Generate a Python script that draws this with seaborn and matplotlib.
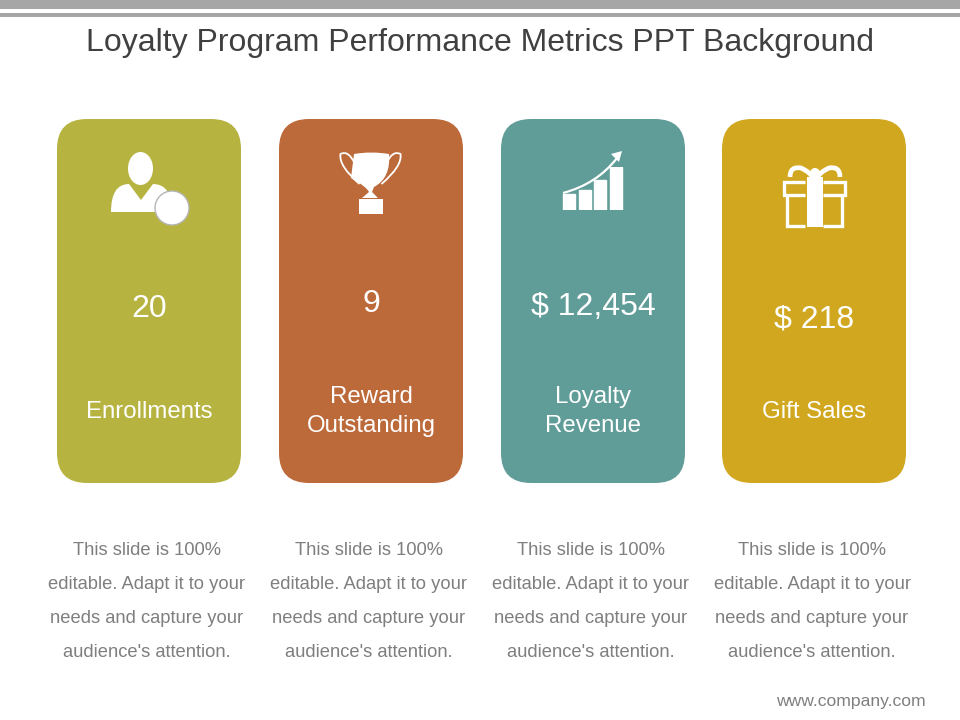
import numpy as np
import pandas as pd
import matplotlib
matplotlib.use("Agg")
import matplotlib.pyplot as plt
from matplotlib.patches import FancyBboxPatch, Ellipse, Circle, Polygon, Rectangle, PathPatch
from matplotlib.path import Path
import seaborn as sns

title = "Loyalty Program Performance Metrics PPT Background"
metric_values = ["20", "9", "$ 12,454", "$ 218"]
metric_labels = ["Enrollments", "Reward\nOutstanding", "Loyalty\nRevenue", "Gift Sales"]
card_colors = ["#B7B341", "#BD6A3B", "#619D98", "#D0A71E"]
value_y = [309, 304, 307, 319]
body_lines = ["This slide is 100%", "editable. Adapt it to your",
              "needs and capture your", "audience's attention."]
growth_steps = ["a", "b", "c", "d"]
growth_heights = [16, 20, 30, 43]
footer = "www.company.com"

sns.set_theme(style="white")
plt.rcParams["font.family"] = ["Liberation Sans", "DejaVu Sans"]

W, H = 960, 720
fig = plt.figure(figsize=(9.6, 7.2), dpi=100, facecolor="white")
ax = fig.add_axes([0, 0, 1, 1])
ax.set_xlim(0, W)
ax.set_ylim(H, 0)
ax.axis("off")

# header rules
ax.add_patch(Rectangle((0, 0), W, 9, fc="#A6A6A6", ec="none"))
ax.add_patch(Rectangle((0, 13), W, 4, fc="#A6A6A6", ec="none"))
ax.text(480, 43.5, title, ha="center", va="center", fontsize=23.05, color="#404040")

card_left = [57, 279, 501, 722]
card_w, top, bottom, rad = 184, 119, 483, 30
for left, c, v, lab, vy in zip(card_left, card_colors, metric_values, metric_labels, value_y):
    ax.add_patch(FancyBboxPatch((left + rad, top + rad), card_w - 2 * rad, bottom - top - 2 * rad,
                                boxstyle=f"round,pad={rad},rounding_size={rad}", fc=c, ec="none"))
    cx = left + card_w / 2
    ax.text(cx, vy, v, ha="center", va="center", fontsize=23, color="white")
    ax.text(cx, 411.5, lab, ha="center", va="center", fontsize=17.3, color="white", linespacing=1.36)
    for i, line in enumerate(body_lines):
        ax.text(cx - 2, 550.5 + 34 * i, line, ha="center", va="center", fontsize=13.25, color="#7F7F7F")

ax.text(926, 701.5, footer, ha="right", va="center", fontsize=12.6, color="#7F7F7F")

W_ = "white"
# person icon
ax.add_patch(Ellipse((140.5, 168.5), 25, 33, fc=W_, ec="none"))
body = Path([(111, 212), (111, 184), (129, 184), (141, 200), (153, 184), (172, 184),
             (172, 212), (111, 212)],
            [Path.MOVETO, Path.CURVE3, Path.CURVE3, Path.LINETO, Path.LINETO, Path.CURVE3,
             Path.CURVE3, Path.CLOSEPOLY])
ax.add_patch(PathPatch(body, fc=W_, ec="none"))
ax.add_patch(Circle((172, 208), 17, fc=W_, ec="#B5B5B5", lw=1))

# trophy icon
cup = Path([(354, 154), (371, 151), (389, 154), (391, 178), (374, 187), (372, 192), (378, 198),
            (362, 198), (369, 192), (367, 187), (351, 178), (354, 154), (354, 154)],
           [Path.MOVETO, Path.CURVE3, Path.CURVE3, Path.CURVE3, Path.CURVE3, Path.LINETO,
            Path.LINETO, Path.LINETO, Path.LINETO, Path.CURVE3, Path.CURVE3, Path.CURVE3, Path.CLOSEPOLY])
ax.add_patch(PathPatch(cup, fc=W_, ec="none"))
ax.add_patch(Rectangle((359, 199), 24, 15, fc=W_, ec="none"))
for sign in (-1, 1):
    hx = lambda d: 370.5 + sign * d
    handle = Path([(hx(16), 163), (hx(22), 150), (hx(30), 154), (hx(32), 166), (hx(11), 184)],
                  [Path.MOVETO, Path.CURVE3, Path.CURVE3, Path.CURVE3, Path.CURVE3])
    ax.add_patch(PathPatch(handle, fc="none", ec=W_, lw=1.3))

# growth icon: bars through seaborn on an inset axes
inset = fig.add_axes([561 / W, 1 - 210 / H, 62.8 / W, 43 / H])
inset.patch.set_alpha(0)
sns.barplot(data=pd.DataFrame({"s": growth_steps, "h": growth_heights}), x="s", y="h",
            color=W_, saturation=1, width=0.76, ax=inset)
inset.set_ylim(0, 43)
inset.axis("off")
arc = Path([(563, 193), (597, 184), (617, 158)], [Path.MOVETO, Path.CURVE3, Path.CURVE3])
ax.add_patch(PathPatch(arc, fc="none", ec=W_, lw=1.6))
ax.add_patch(Polygon([(622, 151), (611, 154), (619, 162)], fc=W_, ec="none"))

# gift icon
lw = 2.4
for xs in ([805, 783.5, 783.5, 805], [823, 844.5, 844.5, 823]):
    ax.plot(xs, [181.5, 181.5, 195, 195], color=W_, lw=lw, solid_capstyle="butt", solid_joinstyle="miter")
ax.plot([786.5, 786.5, 805], [196, 226, 226], color=W_, lw=lw, solid_capstyle="butt", solid_joinstyle="miter")
ax.plot([842, 842, 823], [196, 226, 226], color=W_, lw=lw, solid_capstyle="butt", solid_joinstyle="miter")
ax.add_patch(Rectangle((807, 177), 16, 50, fc=W_, ec="none", zorder=3))
for sign in (-1, 1):
    bx = lambda d: 815 + sign * d
    bow = Path([(bx(25), 177), (bx(25), 166), (bx(14), 168), (bx(5), 172), (bx(2), 178)],
               [Path.MOVETO, Path.CURVE3, Path.CURVE3, Path.CURVE3, Path.CURVE3])
    ax.add_patch(PathPatch(bow, fc="none", ec=W_, lw=3.4, zorder=3, capstyle="butt"))
ax.add_patch(Circle((815, 173), 5, fc=W_, ec="none", zorder=3))

fig.savefig("out.png", dpi=100)
